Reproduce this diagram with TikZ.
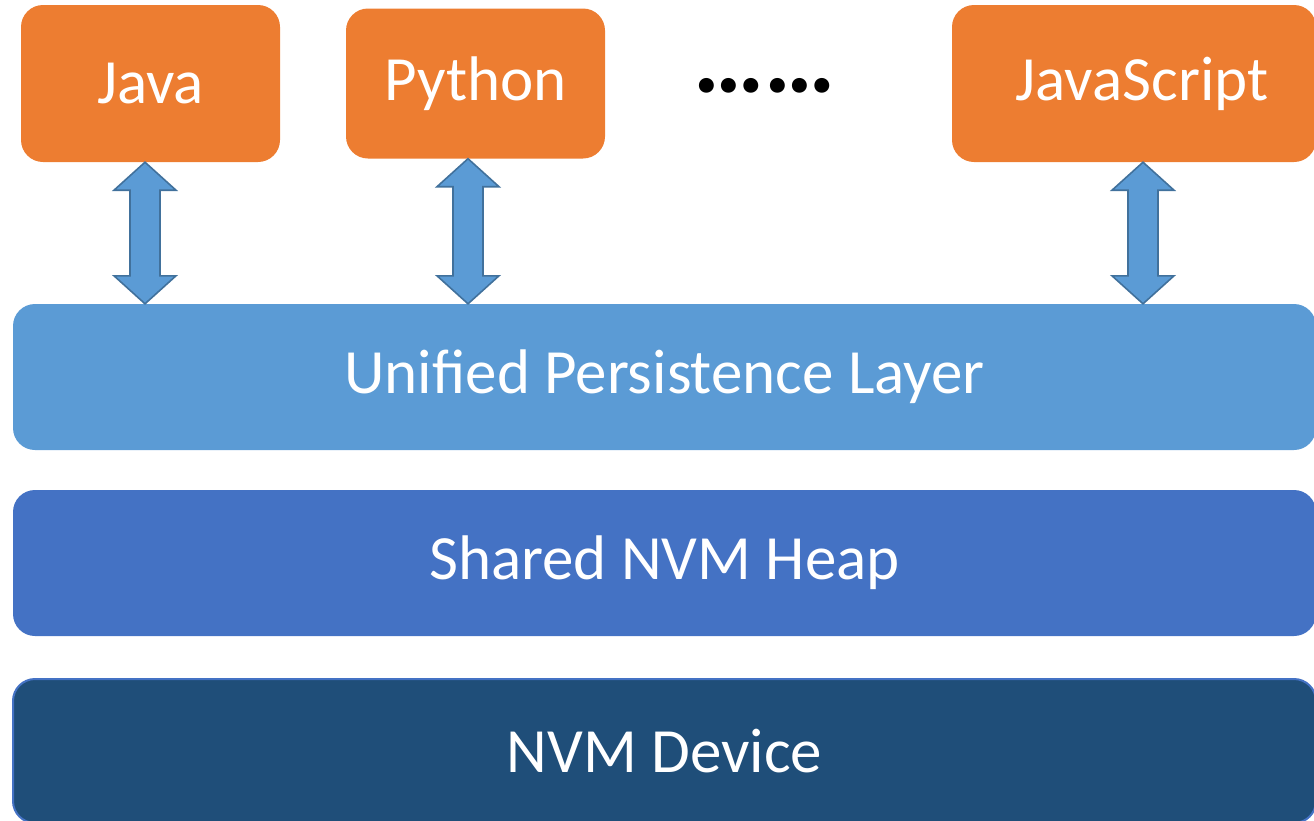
\documentclass[tikz,border=0pt]{standalone}
\usepackage{fontspec}
\setmainfont{Carlito}
\usetikzlibrary{calc}
\definecolor{orng}{HTML}{ED7D31}
\definecolor{lblue}{HTML}{5B9BD5}
\definecolor{mblue}{HTML}{4472C4}
\definecolor{dblue}{HTML}{1F4E79}
\definecolor{aline}{HTML}{41719C}
\tikzset{
  box/.style={rectangle, rounded corners=22pt, inner sep=0pt, text=white, font=\fontsize{63}{74}\selectfont},
  langbox/.style={box, fill=orng, minimum width=259pt, minimum height=157pt},
  layer/.style={box, minimum width=1303pt, minimum height=146pt},
  dbl/.style={fill=lblue, draw=aline, line width=1.6pt, line join=miter}
}
\newcommand\dblarr[2]{%
  \draw[dbl] (#1) -- ($(#1)+(31,28)$) -- ($(#1)+(15,28)$) -- ($(#2)+(15,-28)$) -- ($(#2)+(31,-28)$) -- (#2)
   -- ($(#2)+(-31,-28)$) -- ($(#2)+(-15,-28)$) -- ($(#1)+(-15,28)$) -- ($(#1)+(-31,28)$) -- cycle;}
\begin{document}
\begin{tikzpicture}[x=1pt,y=-1pt]
\useasboundingbox (0,0) rectangle (1314,820);
\node[langbox] (java) at (150.5,83.5) {Java};
\node[langbox, minimum height=150pt] (python) at (475.5,83.5) {Python};
\node[langbox, minimum width=364pt] (js) at (1134,83.5) {\hspace*{16pt}JavaScript};
\node[font=\fontsize{100}{110}\selectfont\bfseries, anchor=base, inner sep=0pt] (dots) at (765,92) {……};
\node[layer, fill=lblue] (upl) at (664.5,377) {Unified Persistence Layer};
\node[layer, fill=mblue] (heap) at (664.5,563) {Shared NVM Heap};
\node[layer, fill=dblue, draw=mblue, line width=2pt, minimum height=144pt] (dev) at (664.5,751) {NVM Device};
\coordinate (xj) at (145,0);
\coordinate (xp) at (468,0);
\coordinate (xs) at (1143,0);
\coordinate (jt) at (java.south -| xj);
\coordinate (jb) at (upl.north -| xj);
\coordinate (pt) at (python.south -| xp);
\coordinate (pb) at (upl.north -| xp);
\coordinate (st) at (js.south -| xs);
\coordinate (sb) at (upl.north -| xs);
\dblarr{jt}{jb}
\dblarr{pt}{pb}
\dblarr{st}{sb}
\end{tikzpicture}
\end{document}
